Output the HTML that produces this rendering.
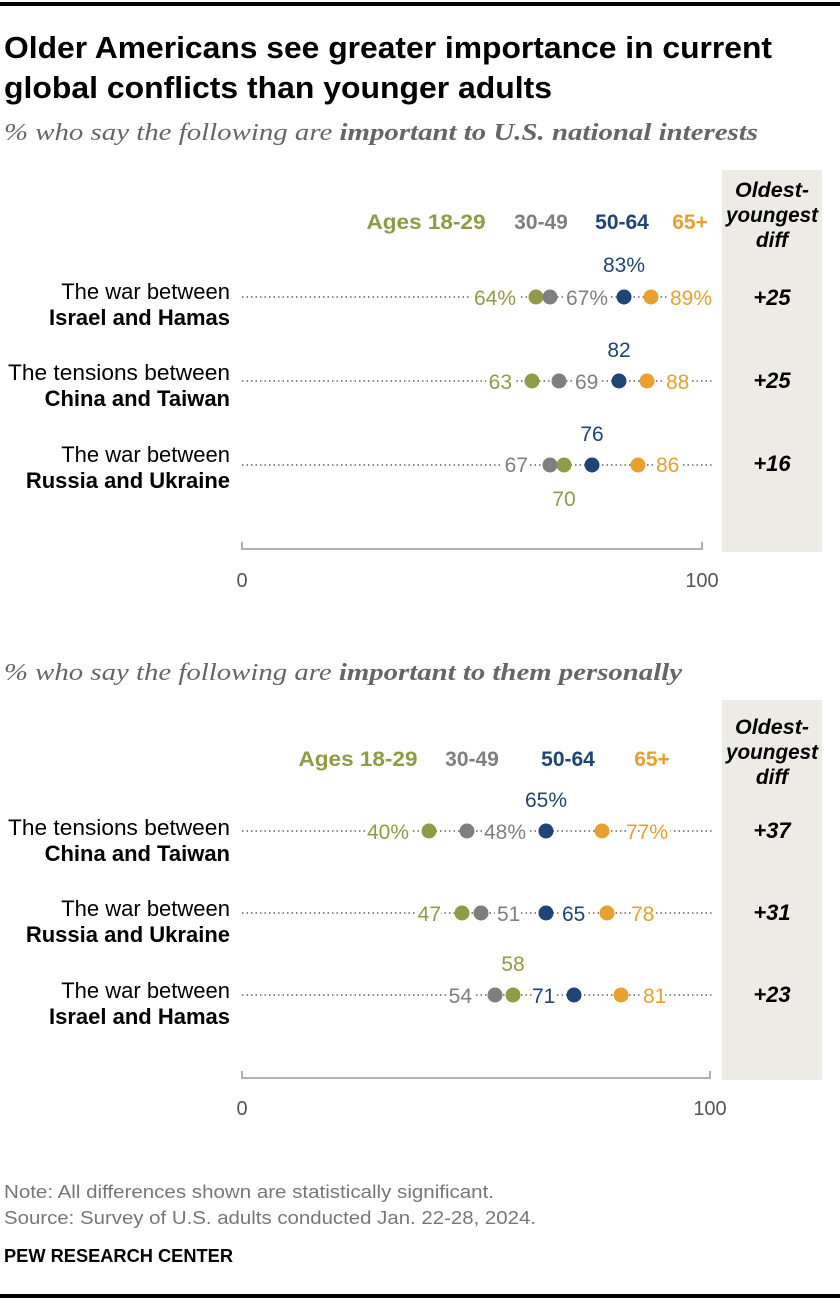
<!DOCTYPE html>
<html><head><meta charset="utf-8"><style>
body{margin:0;background:#fff}
svg{display:block}
text{font-family:"Liberation Sans",sans-serif}
.v{font-size:21px;paint-order:stroke;stroke:#fff;stroke-width:7px}
.g{fill:#8f9c45}.y{fill:#7f7f7f}.b{fill:#1f4478}.o{fill:#eaa02e}
.lab{font-size:22px;fill:#000;text-anchor:end}
.bl{font-weight:bold}
.leg{font-size:21px;font-weight:bold;text-anchor:middle}
.hd{font-size:21px;font-weight:bold;font-style:italic;text-anchor:middle}
.df{font-size:22px;font-weight:bold;font-style:italic;text-anchor:middle}
.ax{font-size:20px;fill:#555;text-anchor:middle}
.dl{stroke:#8a8a8a;stroke-width:2;stroke-dasharray:1.5 3}
</style></head><body>
<svg width="840" height="1304" viewBox="0 0 840 1304">
<rect x="0" y="2" width="840" height="4" fill="#000"/>
<text x="4" y="58" font-size="31" font-weight="bold" fill="#000" textLength="768" lengthAdjust="spacingAndGlyphs">Older Americans see greater importance in current</text>
<text x="4" y="98" font-size="31" font-weight="bold" fill="#000" textLength="548" lengthAdjust="spacingAndGlyphs">global conflicts than younger adults</text>
<text x="4" y="140" font-size="24" font-style="italic" fill="#666" style="font-family:'Liberation Serif',serif" textLength="754" lengthAdjust="spacingAndGlyphs">% who say the following are <tspan font-weight="bold">important to U.S. national interests</tspan></text>

<!-- chart 1 -->
<rect x="722" y="170" width="100" height="382" fill="#edebe5"/>
<text class="hd" x="772" y="197" textLength="74" lengthAdjust="spacingAndGlyphs">Oldest-</text>
<text class="hd" x="772" y="222" textLength="92" lengthAdjust="spacingAndGlyphs">youngest</text>
<text class="hd" x="772" y="247">diff</text>
<text class="leg g" x="426" y="229" textLength="119" lengthAdjust="spacingAndGlyphs">Ages 18-29</text>
<text class="leg y" x="541" y="229">30-49</text>
<text class="leg b" x="622" y="229">50-64</text>
<text class="leg o" x="690" y="229">65+</text>

<g>
<line class="dl" x1="242" y1="297" x2="712" y2="297"/>
<text class="lab" x="230" y="299">The war between</text>
<text class="lab bl" x="230" y="325">Israel and Hamas</text>
<text class="v g" x="516" y="305" text-anchor="end">64%</text>
<text class="v y" x="566" y="305">67%</text>
<text class="v b" x="624" y="272" text-anchor="middle">83%</text>
<text class="v o" x="670" y="305">89%</text>
<circle cx="536" cy="297" r="7.5" class="g"/><circle cx="550" cy="297" r="7.5" class="y"/>
<circle cx="624" cy="297" r="7.5" class="b"/><circle cx="651" cy="297" r="7.5" class="o"/>
<text class="df" x="772" y="305">+25</text>
</g>
<g>
<line class="dl" x1="242" y1="381" x2="712" y2="381"/>
<text class="lab" x="230" y="380" textLength="222" lengthAdjust="spacingAndGlyphs">The tensions between</text>
<text class="lab bl" x="230" y="406">China and Taiwan</text>
<text class="v g" x="512" y="389" text-anchor="end">63</text>
<text class="v y" x="575" y="389">69</text>
<text class="v b" x="619" y="357" text-anchor="middle">82</text>
<text class="v o" x="666" y="389">88</text>
<circle cx="532" cy="381" r="7.5" class="g"/><circle cx="559" cy="381" r="7.5" class="y"/>
<circle cx="619" cy="381" r="7.5" class="b"/><circle cx="647" cy="381" r="7.5" class="o"/>
<text class="df" x="772" y="388">+25</text>
</g>
<g>
<line class="dl" x1="242" y1="465" x2="712" y2="465"/>
<text class="lab" x="230" y="462">The war between</text>
<text class="lab bl" x="230" y="488">Russia and Ukraine</text>
<text class="v y" x="528" y="472" text-anchor="end">67</text>
<text class="v g" x="564" y="506" text-anchor="middle">70</text>
<text class="v b" x="592" y="441" text-anchor="middle">76</text>
<text class="v o" x="656" y="472">86</text>
<circle cx="550" cy="465" r="7.5" class="y"/><circle cx="564" cy="465" r="7.5" class="g"/>
<circle cx="592" cy="465" r="7.5" class="b"/><circle cx="638" cy="465" r="7.5" class="o"/>
<text class="df" x="772" y="471">+16</text>
</g>
<path d="M242 542V549H702V542" fill="none" stroke="#b0b0b0" stroke-width="2"/>
<text class="ax" x="242" y="587">0</text>
<text class="ax" x="702" y="587">100</text>

<!-- chart 2 -->
<text x="4" y="680" font-size="24" font-style="italic" fill="#666" style="font-family:'Liberation Serif',serif" textLength="678" lengthAdjust="spacingAndGlyphs">% who say the following are <tspan font-weight="bold">important to them personally</tspan></text>
<rect x="722" y="700" width="100" height="380" fill="#edebe5"/>
<text class="hd" x="772" y="734" textLength="74" lengthAdjust="spacingAndGlyphs">Oldest-</text>
<text class="hd" x="772" y="759" textLength="92" lengthAdjust="spacingAndGlyphs">youngest</text>
<text class="hd" x="772" y="784">diff</text>
<text class="leg g" x="358" y="766" textLength="119" lengthAdjust="spacingAndGlyphs">Ages 18-29</text>
<text class="leg y" x="472" y="766">30-49</text>
<text class="leg b" x="568" y="766">50-64</text>
<text class="leg o" x="652" y="766">65+</text>

<g>
<line class="dl" x1="242" y1="831" x2="712" y2="831"/>
<text class="lab" x="230" y="835" textLength="222" lengthAdjust="spacingAndGlyphs">The tensions between</text>
<text class="lab bl" x="230" y="861">China and Taiwan</text>
<text class="v g" x="409" y="839" text-anchor="end">40%</text>
<text class="v y" x="484" y="839">48%</text>
<text class="v b" x="546" y="807" text-anchor="middle">65%</text>
<text class="v o" x="626" y="839">77%</text>
<circle cx="429" cy="831" r="7.5" class="g"/><circle cx="467" cy="831" r="7.5" class="y"/>
<circle cx="546" cy="831" r="7.5" class="b"/><circle cx="602" cy="831" r="7.5" class="o"/>
<text class="df" x="772" y="838">+37</text>
</g>
<g>
<line class="dl" x1="242" y1="913" x2="712" y2="913"/>
<text class="lab" x="230" y="916">The war between</text>
<text class="lab bl" x="230" y="942">Russia and Ukraine</text>
<text class="v g" x="441" y="921" text-anchor="end">47</text>
<text class="v y" x="497" y="921">51</text>
<text class="v b" x="562" y="921">65</text>
<text class="v o" x="631" y="921">78</text>
<circle cx="462" cy="913" r="7.5" class="g"/><circle cx="481" cy="913" r="7.5" class="y"/>
<circle cx="546" cy="913" r="7.5" class="b"/><circle cx="607" cy="913" r="7.5" class="o"/>
<text class="df" x="772" y="920">+31</text>
</g>
<g>
<line class="dl" x1="242" y1="995" x2="712" y2="995"/>
<text class="lab" x="230" y="998">The war between</text>
<text class="lab bl" x="230" y="1024">Israel and Hamas</text>
<text class="v y" x="472" y="1003" text-anchor="end">54</text>
<text class="v g" x="513" y="971" text-anchor="middle">58</text>
<text class="v b" x="532" y="1003">71</text>
<text class="v o" x="643" y="1003">81</text>
<circle cx="495" cy="995" r="7.5" class="y"/><circle cx="513" cy="995" r="7.5" class="g"/>
<circle cx="574" cy="995" r="7.5" class="b"/><circle cx="621" cy="995" r="7.5" class="o"/>
<text class="df" x="772" y="1002">+23</text>
</g>
<path d="M242 1071V1078H710V1071" fill="none" stroke="#b0b0b0" stroke-width="2"/>
<text class="ax" x="242" y="1115">0</text>
<text class="ax" x="710" y="1115">100</text>

<text x="4" y="1198" font-size="18" fill="#777" textLength="490" lengthAdjust="spacingAndGlyphs">Note: All differences shown are statistically significant.</text>
<text x="4" y="1224" font-size="18" fill="#777" textLength="532" lengthAdjust="spacingAndGlyphs">Source: Survey of U.S. adults conducted Jan. 22-28, 2024.</text>
<text x="4" y="1262" font-size="18" font-weight="bold" fill="#000" textLength="229" lengthAdjust="spacingAndGlyphs">PEW RESEARCH CENTER</text>
<rect x="0" y="1294" width="840" height="4" fill="#000"/>
</svg>
</body></html>
